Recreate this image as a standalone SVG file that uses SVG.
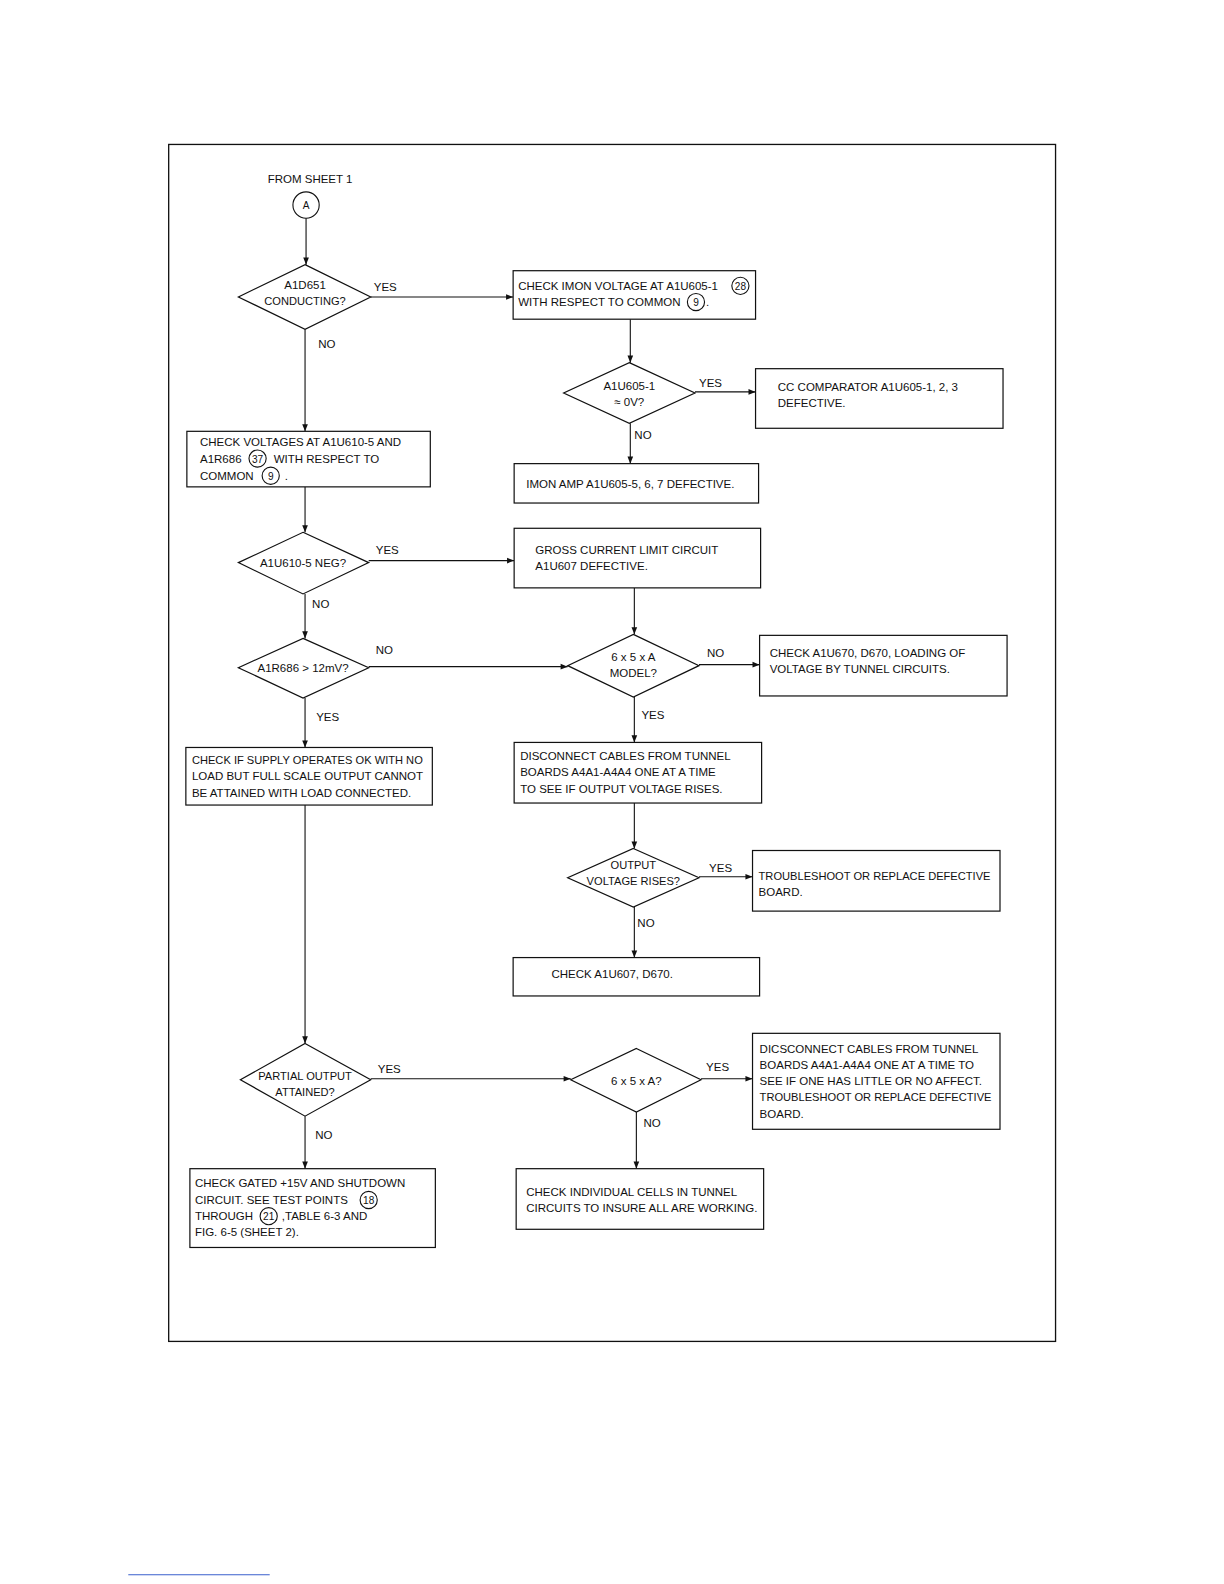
<svg xmlns="http://www.w3.org/2000/svg" width="1224" height="1584" viewBox="0 0 1224 1584">
<defs>
<marker id="ah" viewBox="0 0 10 10" refX="10" refY="5" markerWidth="9" markerHeight="7" markerUnits="userSpaceOnUse" orient="auto">
<path d="M0,1 L10,5 L0,9 Z" fill="#111"/>
</marker>
</defs>
<style>
text{font-family:"Liberation Sans",Arial,sans-serif;font-size:11.4px;fill:#111;}
.c{text-anchor:middle;}
.s{font-size:11px;}
.box{fill:#fff;stroke:#111;stroke-width:1.2;}
.dia{fill:#fff;stroke:#111;stroke-width:1.2;}
.arr{fill:none;stroke:#111;stroke-width:1.1;marker-end:url(#ah);}
.num{fill:none;stroke:#111;stroke-width:1.1;}
.nt{font-size:10px;text-anchor:middle;}
</style>
<rect width="1224" height="1584" fill="#fff"/>
<g transform="scale(1.0101)">
<rect x="167" y="143" width="878" height="1185" fill="none" stroke="#111" stroke-width="1.3"/>
<line x1="127" y1="1559" x2="267" y2="1559" stroke="#3a5fcd" stroke-width="1"/>

<g id="connectors">
<line class="arr" x1="303" y1="216" x2="303" y2="262"/>
<line class="arr" x1="367" y1="294" x2="508" y2="294"/>
<line class="arr" x1="624" y1="316" x2="624" y2="359"/>
<line class="arr" x1="688" y1="388" x2="748" y2="388"/>
<line class="arr" x1="624" y1="419" x2="624" y2="459"/>
<line class="arr" x1="302" y1="326" x2="302" y2="427"/>
<line class="arr" x1="302" y1="482" x2="302" y2="527"/>
<line class="arr" x1="365" y1="555" x2="509" y2="555"/>
<line class="arr" x1="302" y1="588" x2="302" y2="632"/>
<line class="arr" x1="365" y1="660" x2="562" y2="660"/>
<line class="arr" x1="628" y1="582" x2="628" y2="628"/>
<line class="arr" x1="692" y1="658" x2="752" y2="658"/>
<line class="arr" x1="628" y1="690" x2="628" y2="735"/>
<line class="arr" x1="302" y1="691" x2="302" y2="740"/>
<line class="arr" x1="628" y1="795" x2="628" y2="840"/>
<line class="arr" x1="692" y1="868" x2="745" y2="868"/>
<line class="arr" x1="628" y1="898" x2="628" y2="948"/>
<line class="arr" x1="302" y1="797" x2="302" y2="1033"/>
<line class="arr" x1="367" y1="1068" x2="565" y2="1068"/>
<line class="arr" x1="694" y1="1068" x2="745" y2="1068"/>
<line class="arr" x1="630" y1="1101" x2="630" y2="1157"/>
<line class="arr" x1="302" y1="1105" x2="302" y2="1157"/>
<text x="370" y="288">YES</text>
<text x="692" y="383">YES</text>
<text x="628" y="435">NO</text>
<text x="315" y="345">NO</text>
<text x="372" y="548">YES</text>
<text x="309" y="602">NO</text>
<text x="372" y="647">NO</text>
<text x="700" y="650">NO</text>
<text x="635" y="712">YES</text>
<text x="313" y="714">YES</text>
<text x="702" y="863">YES</text>
<text x="631" y="918">NO</text>
<text x="374" y="1062">YES</text>
<text x="699" y="1060">YES</text>
<text x="637" y="1116">NO</text>
<text x="312" y="1128">NO</text>
</g>

<g id="start">
<text x="265" y="181">FROM SHEET 1</text>
<circle cx="303" cy="203" r="13" class="num"/>
<text x="303" y="207" class="c" style="font-size:10px">A</text>
</g>

<g id="d1">
<polygon class="dia" points="302,262 367,294 302,326 236,294"/>
<text x="302" y="286" class="c">A1D651</text>
<text x="302" y="302" class="c s">CONDUCTING?</text>
</g>

<g id="b1">
<rect class="box" x="508" y="268" width="240" height="48"/>
<text x="513" y="287">CHECK IMON VOLTAGE AT A1U605-1</text>
<circle cx="733" cy="283" r="8.5" class="num"/>
<text x="733" y="287" class="nt">28</text>
<text x="513" y="303">WITH RESPECT TO COMMON</text>
<circle cx="689" cy="299" r="8.5" class="num"/>
<text x="689" y="303" class="nt">9</text>
<text x="699" y="303">.</text>
</g>

<g id="d2">
<polygon class="dia" points="623,359 688,389 623,419 558,389"/>
<text x="623" y="386" class="c">A1U605-1</text>
<text x="623" y="402" class="c">≈ 0V?</text>
</g>

<g id="b2">
<rect class="box" x="748" y="365" width="245" height="59"/>
<text x="770" y="387">CC COMPARATOR A1U605-1, 2, 3</text>
<text x="770" y="403">DEFECTIVE.</text>
</g>

<g id="b3">
<rect class="box" x="509" y="459" width="242" height="39"/>
<text x="521" y="483">IMON AMP A1U605-5, 6, 7 DEFECTIVE.</text>
</g>

<g id="b4">
<rect class="box" x="185" y="427" width="241" height="55"/>
<text x="198" y="442">CHECK VOLTAGES AT A1U610-5 AND</text>
<text x="198" y="458">A1R686</text>
<circle cx="255" cy="454" r="8.5" class="num"/>
<text x="255" y="458" class="nt">37</text>
<text x="271" y="458">WITH RESPECT TO</text>
<text x="198" y="475">COMMON</text>
<circle cx="268" cy="471" r="8.5" class="num"/>
<text x="268" y="475" class="nt">9</text>
<text x="282" y="475">.</text>
</g>

<g id="d3">
<polygon class="dia" points="300,527 365,557 300,588 236,557"/>
<text x="300" y="561" class="c">A1U610-5 NEG?</text>
</g>

<g id="b5">
<rect class="box" x="509" y="523" width="244" height="59"/>
<text x="530" y="548">GROSS CURRENT LIMIT CIRCUIT</text>
<text x="530" y="564">A1U607 DEFECTIVE.</text>
</g>

<g id="d4">
<polygon class="dia" points="300,632 365,661 300,691 236,661"/>
<text x="300" y="665" class="c">A1R686 &gt; 12mV?</text>
</g>

<g id="d5">
<polygon class="dia" points="627,628 692,659 627,690 562,659"/>
<text x="627" y="654" class="c">6 x 5 x A</text>
<text x="627" y="670" class="c">MODEL?</text>
</g>

<g id="b6">
<rect class="box" x="752" y="629" width="245" height="60"/>
<text x="762" y="650">CHECK A1U670, D670, LOADING OF</text>
<text x="762" y="666">VOLTAGE BY TUNNEL CIRCUITS.</text>
</g>

<g id="b7">
<rect class="box" x="509" y="735" width="245" height="60"/>
<text x="515" y="752">DISCONNECT CABLES FROM TUNNEL</text>
<text x="515" y="768">BOARDS A4A1-A4A4 ONE AT A TIME</text>
<text x="515" y="785">TO SEE IF OUTPUT VOLTAGE RISES.</text>
</g>

<g id="b8">
<rect class="box" x="184" y="740" width="244" height="57"/>
<text x="190" y="756" class="s">CHECK IF SUPPLY OPERATES OK WITH NO</text>
<text x="190" y="772">LOAD BUT FULL SCALE OUTPUT CANNOT</text>
<text x="190" y="789">BE ATTAINED WITH LOAD CONNECTED.</text>
</g>

<g id="d6">
<polygon class="dia" points="627,840 692,869 627,898 562,869"/>
<text x="627" y="860" class="c s">OUTPUT</text>
<text x="627" y="876" class="c s">VOLTAGE RISES?</text>
</g>

<g id="b9">
<rect class="box" x="745" y="842" width="245" height="60"/>
<text x="751" y="871" class="s">TROUBLESHOOT OR REPLACE DEFECTIVE</text>
<text x="751" y="887">BOARD.</text>
</g>

<g id="b10">
<rect class="box" x="508" y="948" width="244" height="38"/>
<text x="546" y="968">CHECK A1U607, D670.</text>
</g>

<g id="d7">
<polygon class="dia" points="302,1033 367,1069 302,1105 238,1069"/>
<text x="302" y="1069" class="c s">PARTIAL OUTPUT</text>
<text x="302" y="1085" class="c s">ATTAINED?</text>
</g>

<g id="d8">
<polygon class="dia" points="630,1038 694,1069 630,1101 565,1069"/>
<text x="630" y="1074" class="c">6 x 5 x A?</text>
</g>

<g id="b11">
<rect class="box" x="745" y="1023" width="245" height="95"/>
<text x="752" y="1042">DICSCONNECT CABLES FROM TUNNEL</text>
<text x="752" y="1058">BOARDS A4A1-A4A4 ONE AT A TIME TO</text>
<text x="752" y="1074">SEE IF ONE HAS LITTLE OR NO AFFECT.</text>
<text x="752" y="1090" class="s">TROUBLESHOOT OR REPLACE DEFECTIVE</text>
<text x="752" y="1107">BOARD.</text>
</g>

<g id="b12">
<rect class="box" x="511" y="1157" width="245" height="60"/>
<text x="521" y="1184">CHECK INDIVIDUAL CELLS IN TUNNEL</text>
<text x="521" y="1200">CIRCUITS TO INSURE ALL ARE WORKING.</text>
</g>

<g id="b13">
<rect class="box" x="188" y="1157" width="243" height="78"/>
<text x="193" y="1175">CHECK GATED +15V AND SHUTDOWN</text>
<text x="193" y="1192">CIRCUIT. SEE TEST POINTS</text>
<circle cx="365" cy="1188" r="8.5" class="num"/>
<text x="365" y="1192" class="nt">18</text>
<text x="193" y="1208">THROUGH</text>
<circle cx="266" cy="1204" r="8.5" class="num"/>
<text x="266" y="1208" class="nt">21</text>
<text x="279" y="1208">,TABLE 6-3 AND</text>
<text x="193" y="1224">FIG. 6-5 (SHEET 2).</text>
</g>
</g>
</svg>
